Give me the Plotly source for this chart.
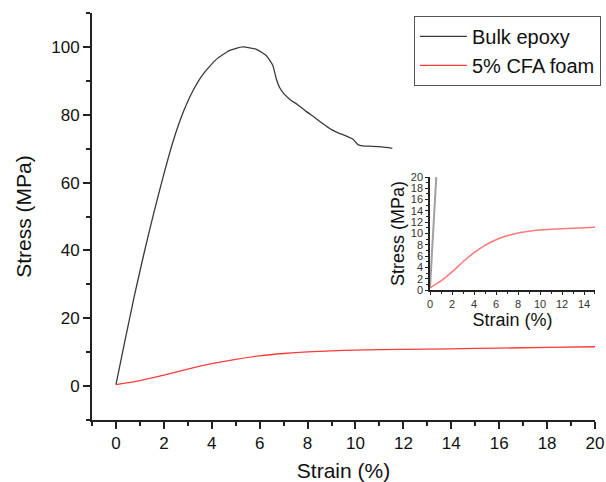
import plotly.graph_objects as go

# Bulk epoxy stress-strain (strain %, stress MPa)
epoxy_strain = [0, 0.35, 0.75, 1.15, 1.56, 1.98, 2.4, 2.81, 3.23, 3.64, 4.2, 4.75, 5.3, 5.86,
                6.28, 6.55, 6.69, 6.85, 7.0, 7.25, 7.6, 7.94, 8.3, 8.63, 9.0, 9.3, 9.6, 9.9,
                10.1, 10.3, 10.7, 11.1, 11.54]
epoxy_stress = [0.4, 12.5, 26, 38.5, 50.5, 62, 72.5, 80.8, 87.3, 92, 96.4, 99, 100, 99.3,
                97.4, 94.5, 90.7, 87.8, 86.3, 84.6, 82.9, 81.0, 79.2, 77.4, 75.6, 74.6, 73.8, 72.8,
                71.2, 70.8, 70.7, 70.5, 70.1]

# 5% CFA foam
foam_strain = [0, 1, 2, 3, 4, 5, 6, 7, 8, 9, 10, 12, 14, 16, 18, 20]
foam_stress = [0.4, 1.6, 3.2, 5.0, 6.6, 7.9, 8.9, 9.6, 10.1, 10.4, 10.6, 10.85, 11.0, 11.2, 11.4, 11.6]

FONT = "Liberation Sans, Arial, sans-serif"

fig = go.Figure()
fig.add_trace(go.Scatter(x=epoxy_strain, y=epoxy_stress, mode="lines", name="Bulk epoxy",
                         line=dict(color="#3a3a3a", width=1.3, shape="spline", smoothing=0.5)))
fig.add_trace(go.Scatter(x=foam_strain, y=foam_stress, mode="lines", name="5% CFA foam",
                         line=dict(color="#ff3b3b", width=1.3, shape="spline", smoothing=0.5)))
# inset
fig.add_trace(go.Scatter(x=epoxy_strain, y=epoxy_stress, mode="lines", showlegend=False,
                         xaxis="x2", yaxis="y2",
                         line=dict(color="#a0a0a0", width=2, shape="spline", smoothing=0.5)))
fig.add_trace(go.Scatter(x=foam_strain, y=foam_stress, mode="lines", showlegend=False,
                         xaxis="x2", yaxis="y2",
                         line=dict(color="#ff7a7a", width=1.5, shape="spline", smoothing=0.5)))

axis_common = dict(showgrid=False, zeroline=False, showline=True, linecolor="#222",
                   ticks="outside", tickcolor="#222", mirror=False, automargin=False)

fig.update_layout(
    width=606, height=482,
    margin=dict(l=92, r=11, t=13, b=62, autoexpand=False),
    paper_bgcolor="white", plot_bgcolor="white",
    font=dict(family=FONT, color="#111"),
    xaxis=dict(**axis_common, range=[-1, 20], dtick=2, tick0=0, linewidth=2, tickwidth=2,
               ticklen=7, tickfont=dict(size=17),
               minor=dict(ticks="outside", dtick=1, tick0=0, ticklen=4, tickwidth=1.5, tickcolor="#222"),
               title=dict(text="Strain (%)", font=dict(size=21), standoff=13)),
    yaxis=dict(**axis_common, range=[-10, 110], dtick=20, tick0=0, linewidth=2, tickwidth=2,
               ticklen=7, tickfont=dict(size=17),
               minor=dict(ticks="outside", dtick=10, tick0=0, ticklen=4, tickwidth=1.5, tickcolor="#222"),
               title=dict(text="Stress (MPa)", font=dict(size=21), standoff=14)),
    xaxis2=dict(**axis_common, domain=[0.672, 1.0], anchor="y2", range=[0, 15], dtick=2, tick0=0,
                linewidth=1.5, tickwidth=1, ticklen=3, tickfont=dict(size=11, color="#333"),
                minor=dict(ticks="outside", dtick=1, tick0=0, ticklen=2, tickcolor="#222"),
                title=dict(text="Strain (%)", font=dict(size=18), standoff=4)),
    yaxis2=dict(**axis_common, domain=[0.3194, 0.597], anchor="x2", range=[0, 20], dtick=2, tick0=0,
                linewidth=1.5, tickwidth=1, ticklen=3, tickfont=dict(size=11, color="#333"),
                minor=dict(ticks="outside", dtick=1, tick0=0, ticklen=2, tickcolor="#222"),
                title=dict(text="Stress (MPa)", font=dict(size=18), standoff=2)),
    legend=dict(x=0.64, y=0.993, xanchor="left", yanchor="top",
                bordercolor="#555", borderwidth=1, bgcolor="white", itemwidth=47,
                font=dict(size=20, color="#111"), tracegroupgap=0),
)

fig.write_html("out.html", config={"displayModeBar": False},
               post_script="document.body.style.margin='0';document.body.style.overflow='hidden';")
